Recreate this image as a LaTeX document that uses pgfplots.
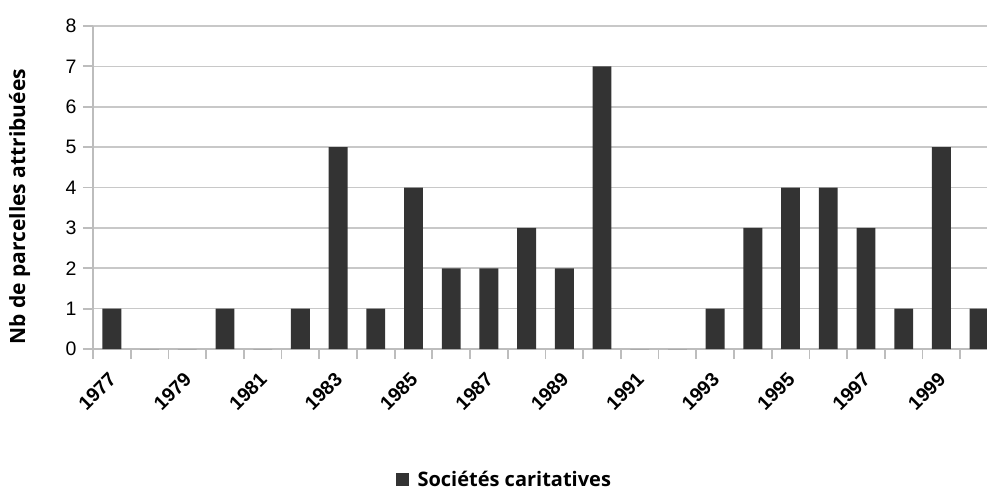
\documentclass[border=0pt]{standalone}
\usepackage{pgfplots}
\pgfplotsset{compat=1.18}
\usepackage{fontspec}
\setmainfont{Liberation Sans}
\newfontfamily\labfont{Open Sans}
\definecolor{barc}{HTML}{333333}
\definecolor{gridc}{HTML}{C8C8C8}
\definecolor{axc}{HTML}{BDBDBD}
\begin{document}
\begin{tikzpicture}[x=1pt,y=1pt]
\path[use as bounding box] (0,0) rectangle (987,-491);
\begin{axis}[
  at={(93pt,-349pt)}, anchor=south west,
  scale only axis, width=894pt, height=323pt,
  xmin=-0.5, xmax=23.21, ymin=0, ymax=8,
  axis lines*=left,
  axis line style={axc, line width=1.8pt},
  ybar, bar width=0.5,
  ytick={0,...,8},
  ymajorgrids, grid style={gridc, line width=1.6pt},
  xtick={0,2,...,22},
  xticklabels={1977,1979,1981,1983,1985,1987,1989,1991,1993,1995,1997,1999},
  minor xtick={-0.5,0.5,...,22.5},
  major x tick style={draw=none},
  xticklabel style={rotate=45, anchor=north east, xshift=-8pt, yshift=-2pt,
      font=\bfseries\fontsize{19.5}{21}\selectfont},
  tick align=outside, major tick length=10pt, minor tick length=10pt,
  tick style={axc, line width=1.8pt},
  /pgf/number format/assume math mode=true,
  yticklabel style={font=\fontsize{19.5}{21}\selectfont, text=black, xshift=-3pt},
  ylabel={Nb de parcelles attribuées},
  every axis y label/.style={at={(axis description cs:-0.082,0.44)}, rotate=90, anchor=center,
    font=\labfont\bfseries\fontsize{21}{24}\selectfont},
  legend style={at={(axis description cs:0.46,-0.404)}, anchor=center, draw=none,
    font=\labfont\bfseries\fontsize{20}{24}\selectfont, inner sep=0pt},
  legend image code/.code={\fill[barc] (0pt,-6.5pt) rectangle (13pt,6.5pt);},
  legend cell align=left,
]
\addplot[fill=barc, draw=none] coordinates {
(0,1) (1,0) (2,0) (3,1) (4,0) (5,1) (6,5) (7,1) (8,4) (9,2) (10,2) (11,3)
(12,2) (13,7) (14,0) (15,0) (16,1) (17,3) (18,4) (19,4) (20,3) (21,1) (22,5) (23,1)};
\addlegendentry{\hspace{7pt}Sociétés caritatives}
\end{axis}
\end{tikzpicture}
\end{document}
